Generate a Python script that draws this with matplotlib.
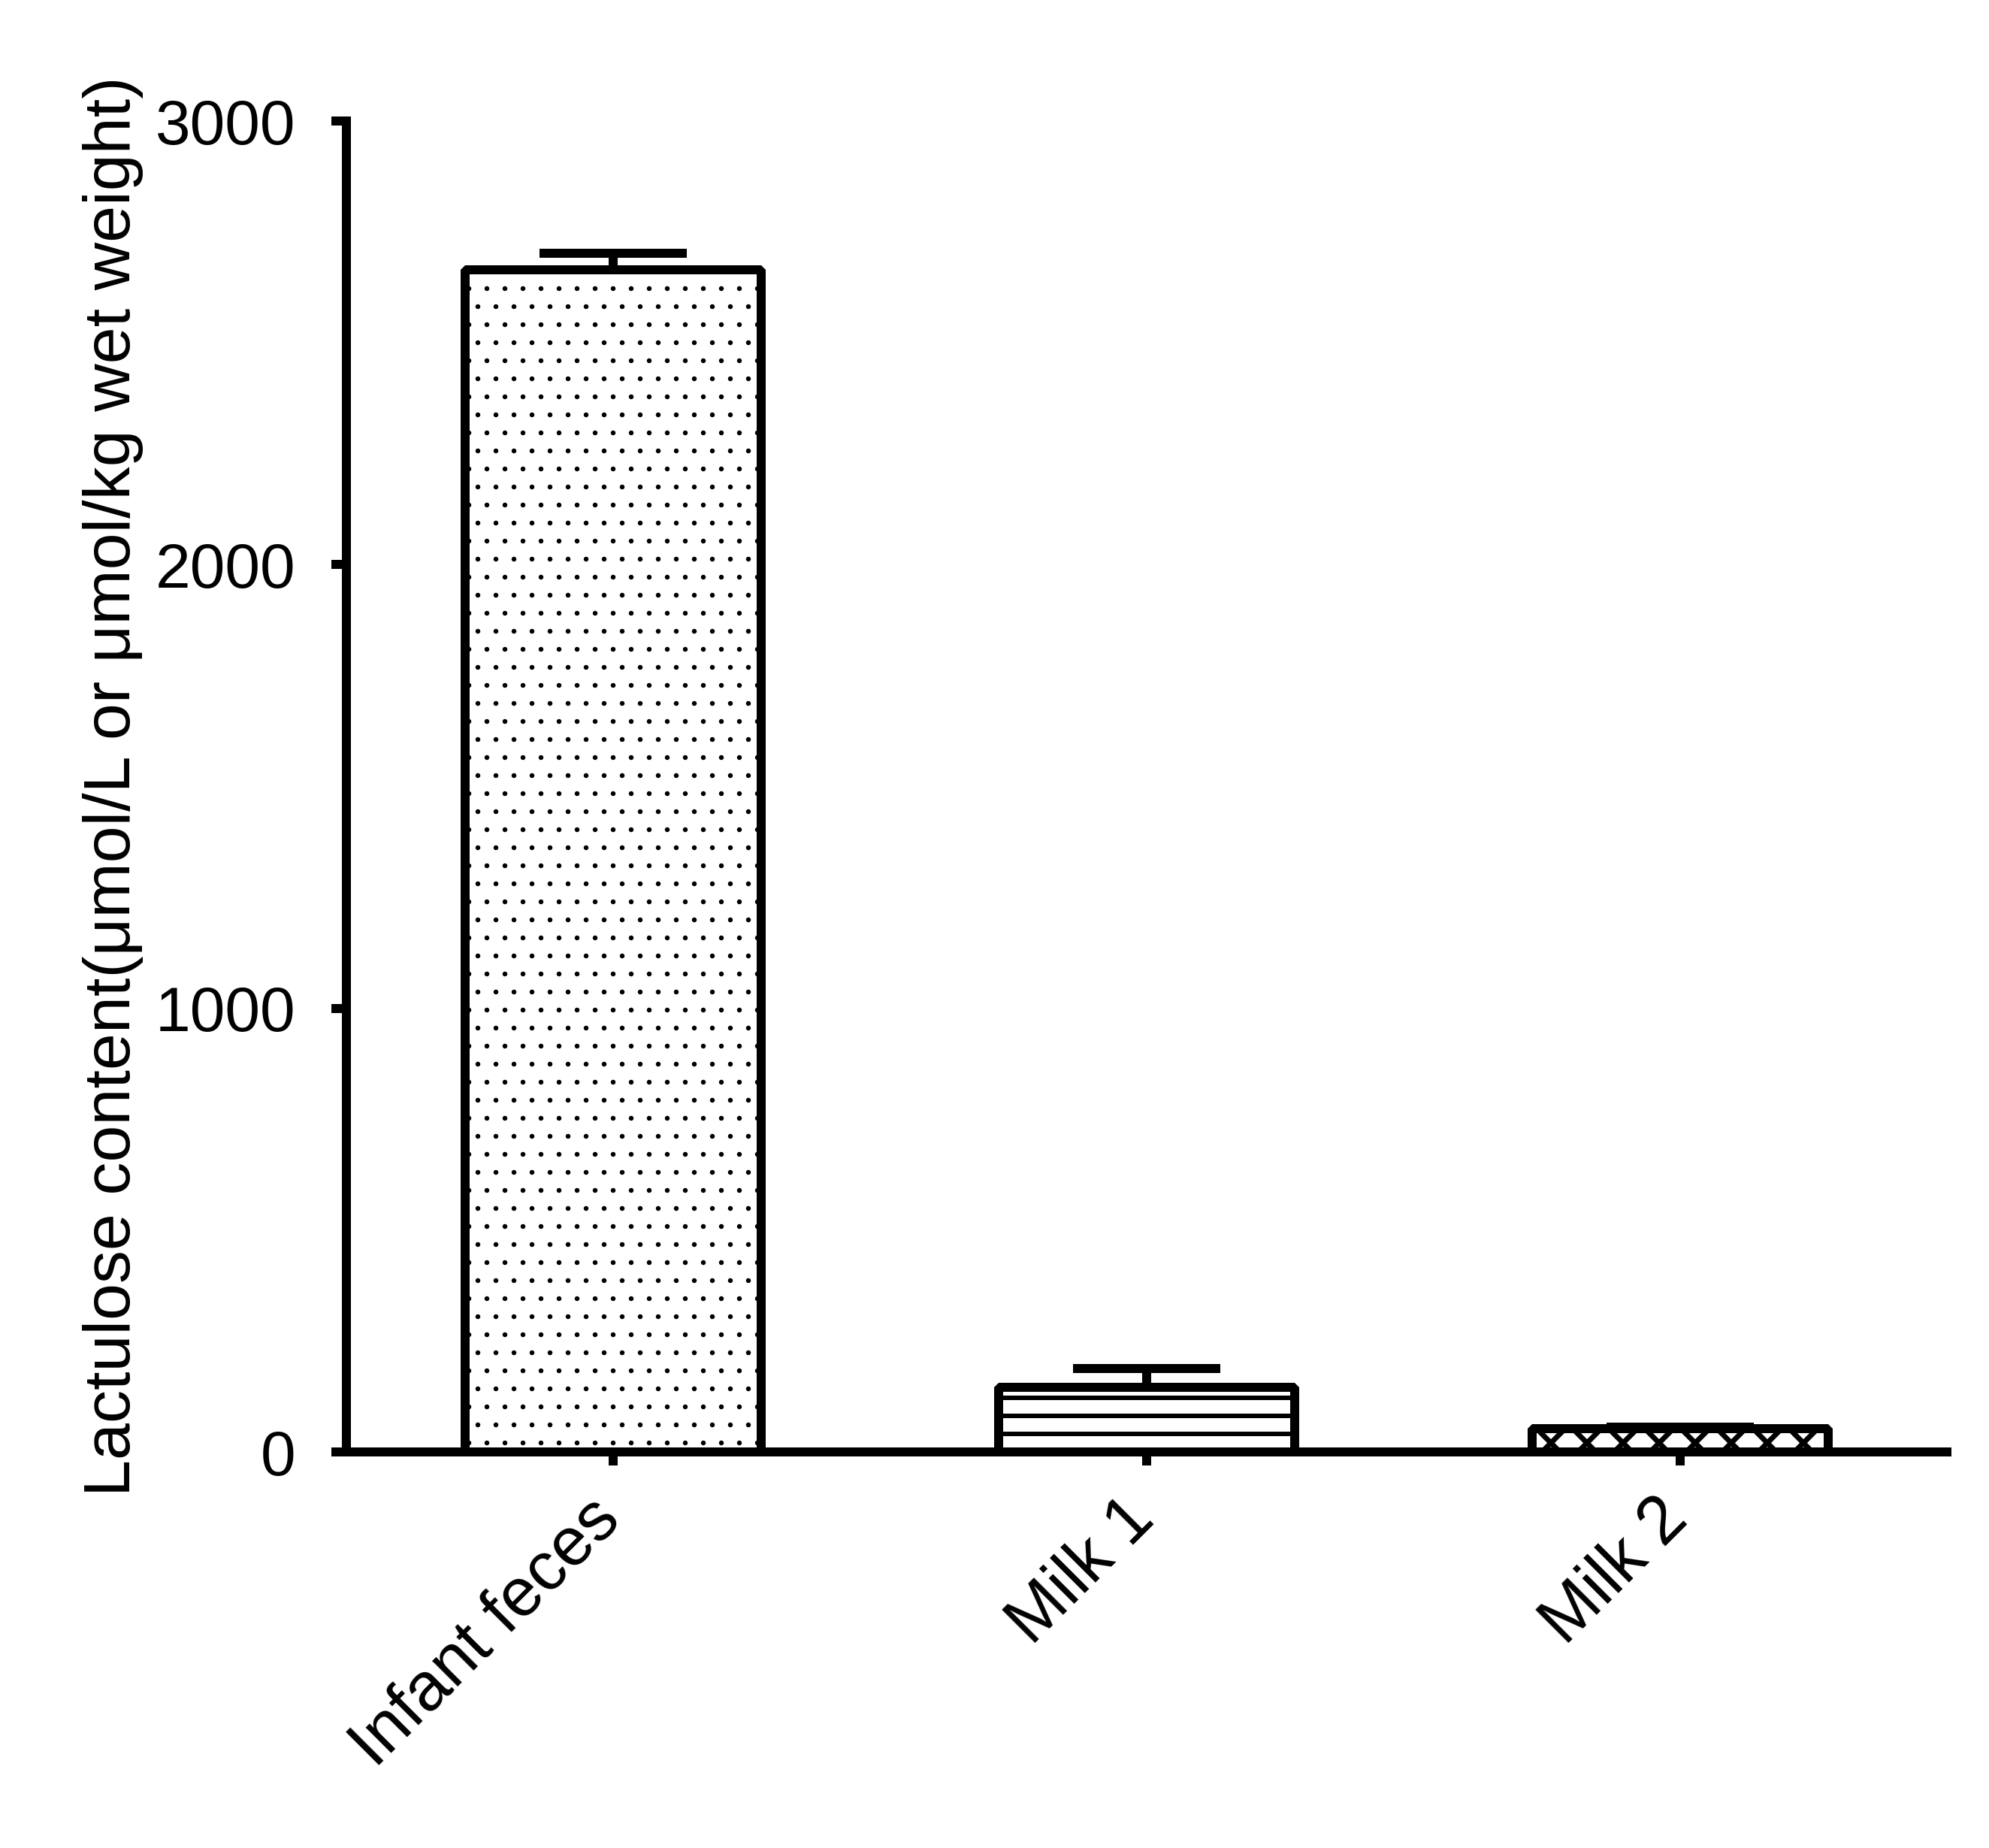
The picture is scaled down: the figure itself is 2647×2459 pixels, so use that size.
import matplotlib
matplotlib.use('Agg')
import matplotlib.pyplot as plt
import matplotlib.transforms as mtransforms
from matplotlib import font_manager

# data
categories = ['Infant feces', 'Milk 1', 'Milk 2']
means = [2665, 146, 52]
errors = [37, 42, 4]
hatches = ['.', '-', 'x']
hatch_widths = [0.8, 3.0, 3.5]
yticks = [0, 1000, 2000, 3000]

plt.rcParams['font.family'] = ['Liberation Sans', 'DejaVu Sans']
plt.rcParams['hatch.color'] = 'black'

names = {f.name for f in font_manager.fontManager.ttflist}
narrow = 'Liberation Sans Narrow' in names

fig = plt.figure(figsize=(2647 / 144, 2459 / 144), dpi=144)
ax = fig.add_axes([0.1742, 0.2143, 0.8047, 0.7202])

x = range(len(categories))
for i in x:
    plt.rcParams['hatch.linewidth'] = hatch_widths[i]
    bars = ax.bar(i, means[i], width=0.555, color='white', edgecolor='black',
                  linewidth=6, hatch=hatches[i], zorder=3)
    for b in bars:
        b.set_joinstyle('bevel')
        if hasattr(b, 'set_hatch_linewidth'):
            b.set_hatch_linewidth(hatch_widths[i])
    ax.errorbar(i, means[i], yerr=[[0], [errors[i]]], fmt='none', ecolor='black',
                elinewidth=6, capsize=49, capthick=6, zorder=2)

ax.set_xlim(-0.5, 2.5)
ax.set_ylim(0, 3000)
ax.set_yticks(yticks)
ax.set_yticklabels([str(v) for v in yticks])
ax.set_xticks(list(x))
ax.set_xticklabels(categories, rotation=45, ha='right', rotation_mode='anchor')

for side in ['top', 'right']:
    ax.spines[side].set_visible(False)
for side in ['left', 'bottom']:
    ax.spines[side].set_linewidth(6)
    ax.spines[side].set_zorder(4)

ax.tick_params(axis='y', length=10, width=6, pad=24)
ax.tick_params(axis='x', length=9, width=6, labelsize=45, pad=18)

for lab in ax.get_yticklabels():
    if narrow:
        lab.set_family(['Liberation Sans Narrow', 'DejaVu Sans'])
        lab.set_fontsize(45)
    else:
        lab.set_fontsize(42)

shift = mtransforms.ScaledTranslation(-17 / 72, 4 / 72, fig.dpi_scale_trans)
for lab in ax.get_xticklabels():
    lab.set_transform(lab.get_transform() + shift)

ax.set_ylabel('Lactulose content(μmol/L or μmol/kg wet weight)', fontsize=44)
ax.yaxis.set_label_coords(-0.127, 0.5)

fig.savefig('out.png', dpi=144)
